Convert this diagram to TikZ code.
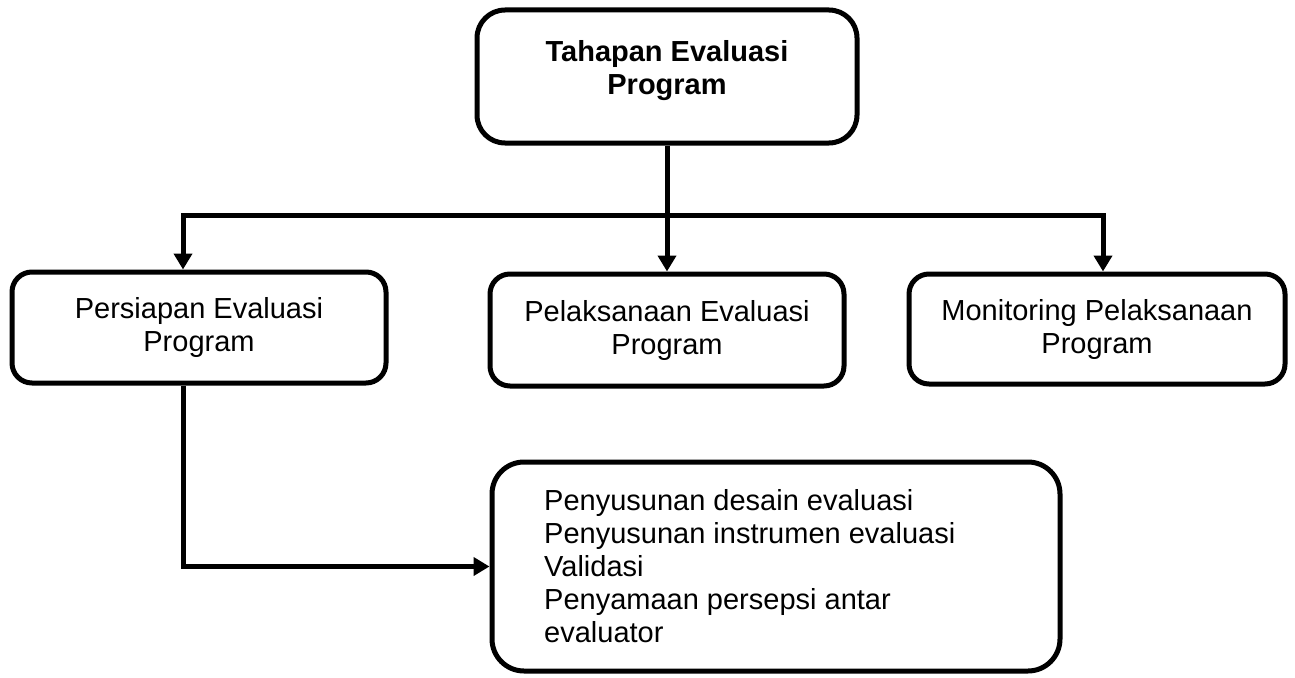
\documentclass[tikz,border=0pt]{standalone}
\usepackage{fontspec}
\setmainfont{Liberation Sans}
\usetikzlibrary{arrows.meta}
\begin{document}
\begin{tikzpicture}[x=1pt,y=-1pt,
  box/.style={draw, line width=5pt, inner sep=0pt},
  txt/.style={font=\fontsize{29}{33}\selectfont, align=center, inner sep=0pt},
  conn/.style={line width=5pt, line join=miter},
  tip/.tip={Triangle[width=18pt,length=16pt]}]
\useasboundingbox (0,0) rectangle (1295,677);
% boxes
\node[box, rounded corners=28pt, minimum width=380pt, minimum height=133pt] (top) at (667,76.5) {};
\node[txt, font=\fontsize{29}{33}\selectfont\bfseries] (toptext) at (667,71) {Tahapan Evaluasi\\Program};
\node[box, rounded corners=20pt, minimum width=374pt, minimum height=111pt, txt] (left) at (199,327.5) {Persiapan Evaluasi\\Program};
\node[box, rounded corners=20pt, minimum width=354pt, minimum height=112pt, txt] (mid) at (667,330) {Pelaksanaan Evaluasi\\Program};
\node[box, rounded corners=20pt, minimum width=376pt, minimum height=110pt, txt] (right) at (1097,329) {Monitoring Pelaksanaan\\Program};
\node[box, rounded corners=32pt, minimum width=568pt, minimum height=209pt] (bot) at (776,566.5) {};
\node[txt, align=left, anchor=west] (bottext) at (544,566) {Penyusunan desain evaluasi\\Penyusunan instrumen evaluasi\\Validasi\\Penyamaan persepsi antar\\evaluator};
% connectors
\coordinate (la) at (183,215);
\coordinate (ra) at (1103,215);
\draw[conn, -tip] (top.south) -- (mid.north);
\draw[conn, tip-tip] (la |- left.north) -- (la) -- (ra) -- (ra |- right.north);
\draw[conn, -tip] (la |- left.south) |- (bot.west);
\end{tikzpicture}
\end{document}
